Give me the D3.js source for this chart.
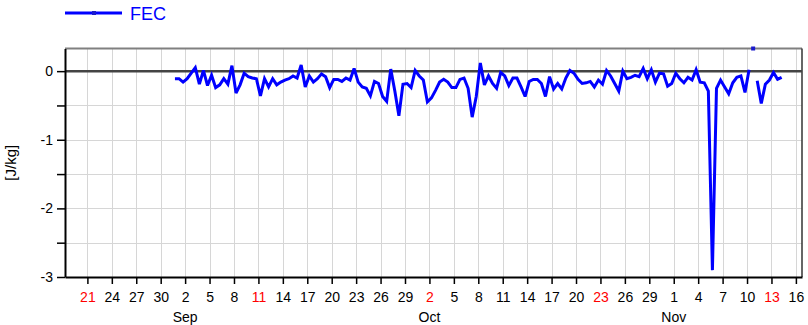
<!DOCTYPE html>
<html>
<head>
<meta charset="utf-8">
<script src="https://cdn.jsdelivr.net/npm/d3@7"></script>
<style>
  html, body { margin: 0; padding: 0; background: #fff; }
  svg { display: block; font-family: "Liberation Sans", Arial, Helvetica, sans-serif; }
</style>
</head>
<body>
<svg id="chart" width="808" height="325"></svg>
<script>
// Series: FEC, sampled every 12 hours starting at the first timestamp
const seriesName = "FEC";
const seriesUnit = "[J/kg]";
const seriesStart = "2016-08-31T18:00:00Z";
const seriesStepHours = 12;
const fecValues = [
  -0.11, -0.11, -0.16, -0.11, -0.03, 0.05, -0.19, 0.01, -0.21, -0.06,
  -0.24, -0.20, -0.11, -0.19, 0.08, -0.32, -0.20, -0.03, -0.08, -0.10,
  -0.11, -0.36, -0.11, -0.23, -0.11, -0.20, -0.16, -0.13, -0.11, -0.07,
  -0.10, 0.09, -0.23, -0.07, -0.16, -0.11, -0.04, -0.08, -0.24, -0.12,
  -0.12, -0.15, -0.10, -0.13, 0.04, -0.16, -0.23, -0.25, -0.36, -0.15,
  -0.18, -0.37, -0.44, 0.03, -0.29, -0.65, -0.19, -0.18, -0.24, 0.01,
  -0.07, -0.13, -0.45, -0.39, -0.28, -0.16, -0.12, -0.16, -0.24, -0.24,
  -0.12, -0.10, -0.25, -0.67, -0.37, 0.12, -0.20, -0.07, -0.18, -0.25,
  -0.02, -0.07, -0.21, -0.10, -0.10, -0.23, -0.37, -0.15, -0.12, -0.12,
  -0.18, -0.37, -0.08, -0.26, -0.18, -0.26, -0.10, 0.01, -0.03, -0.12,
  -0.18, -0.17, -0.15, -0.23, -0.13, -0.19, 0.01, -0.07, -0.18, -0.29,
  0.00, -0.11, -0.09, -0.06, -0.08, 0.04, -0.11, 0.02, -0.16, -0.03,
  -0.04, -0.22, -0.18, -0.03, -0.11, -0.17, -0.09, -0.13, 0.02, -0.16,
  -0.17, -0.29, -2.90, -0.25, -0.13, -0.23, -0.33, -0.17, -0.09, -0.07,
  -0.31, 0.02, 0.45, -0.14, -0.47, -0.19, -0.13, -0.02, -0.12, -0.09
];

// Axis settings
const xDomain = ["2016-08-18T06:00:00Z", "2016-11-16T18:00:00Z"];
const yDomain = [-3, 0.33];
const xTickDates = [
  "2016-08-21", "2016-08-24", "2016-08-27", "2016-08-30",
  "2016-09-02", "2016-09-05", "2016-09-08", "2016-09-11", "2016-09-14",
  "2016-09-17", "2016-09-20", "2016-09-23", "2016-09-26", "2016-09-29",
  "2016-10-02", "2016-10-05", "2016-10-08", "2016-10-11", "2016-10-14",
  "2016-10-17", "2016-10-20", "2016-10-23", "2016-10-26", "2016-10-29",
  "2016-11-01", "2016-11-04", "2016-11-07", "2016-11-10", "2016-11-13",
  "2016-11-16"
];
const monthLabels = ["Jan","Feb","Mar","Apr","May","Jun","Jul","Aug","Sep","Oct","Nov","Dec"];
const yMajorTicks = [0, -1, -2, -3];
const yMinorTicks = [-0.5, -1.5, -2.5];

const margin = { left: 65, right: 6, top: 48.5, bottom: 48 };
const W = 808, H = 325;
const svg = d3.select("#chart");

const x = d3.scaleUtc()
  .domain(xDomain.map(d => new Date(d)))
  .range([margin.left, W - margin.right]);
const y = d3.scaleLinear()
  .domain(yDomain)
  .range([H - margin.bottom, margin.top]);

const startMs = Date.parse(seriesStart);
const data = fecValues.map((v, i) => ({ t: new Date(startMs + i * seriesStepHours * 3600e3), v }));
const ticks = xTickDates.map(d => new Date(d + "T00:00:00Z"));

const x0 = margin.left, x1 = W - margin.right;
const y0 = H - margin.bottom, y1 = margin.top;

// Grid
const grid = svg.append("g").attr("stroke", "#d6d6d6").attr("stroke-width", 1);
grid.selectAll("line.v").data(ticks).join("line")
  .attr("x1", d => Math.round(x(d)) + 0.5).attr("x2", d => Math.round(x(d)) + 0.5)
  .attr("y1", y1).attr("y2", y0);
grid.selectAll("line.h").data(yMajorTicks.concat(yMinorTicks).filter(v => v !== 0 && v !== -3)).join("line")
  .attr("x1", x0).attr("x2", x1)
  .attr("y1", d => Math.round(y(d)) + 0.5).attr("y2", d => Math.round(y(d)) + 0.5);

// Frame: top and right edges
svg.append("line").attr("x1", x0).attr("x2", x1).attr("y1", y1).attr("y2", y1)
  .attr("stroke", "#808080").attr("stroke-width", 2);
svg.append("line").attr("x1", x1).attr("x2", x1).attr("y1", y1).attr("y2", y0)
  .attr("stroke", "#333").attr("stroke-width", 1.5);

// Zero reference line
svg.append("line").attr("x1", x0).attr("x2", x1).attr("y1", y(0)).attr("y2", y(0))
  .attr("stroke", "#444").attr("stroke-width", 2.5);

// Y axis
const yAxis = svg.append("g").attr("transform", `translate(${x0},0)`)
  .call(d3.axisLeft(y).tickValues(yMajorTicks.concat(yMinorTicks))
    .tickFormat(d => Number.isInteger(d) ? d3.format("d")(d).replace("−", "-") : "")
    .tickSizeInner(8).tickSizeOuter(0).tickPadding(4));
yAxis.select(".domain").attr("stroke", "#000").attr("stroke-width", 2);
yAxis.selectAll(".tick line").attr("stroke", "#000").attr("stroke-width", 1.5);
yAxis.selectAll(".tick text").attr("font-size", 14).attr("fill", "#000")
  .attr("font-family", "Liberation Sans, Arial, sans-serif");

svg.append("text")
  .attr("transform", `translate(16,${(y1 + y0) / 2}) rotate(-90)`)
  .attr("text-anchor", "middle")
  .attr("font-size", 15)
  .attr("fill", "#000")
  .text(seriesUnit);

// X axis
const xAxis = svg.append("g").attr("transform", `translate(0,${y0})`)
  .call(d3.axisBottom(x).tickValues(ticks)
    .tickFormat(d => d.getUTCDate())
    .tickSizeInner(7).tickSizeOuter(0).tickPadding(8));
xAxis.select(".domain").attr("stroke", "#000").attr("stroke-width", 2);
xAxis.selectAll(".tick line").attr("stroke", "#000").attr("stroke-width", 1.5);
xAxis.selectAll(".tick text").attr("font-size", 14)
  .attr("font-family", "Liberation Sans, Arial, sans-serif")
  .attr("fill", d => d.getUTCDay() === 0 ? "#ff0000" : "#000");

// Month names under the first tick of each month
const firstOfMonth = ticks.filter((d, i) => i > 0 && d.getUTCMonth() !== ticks[i - 1].getUTCMonth());
svg.append("g").selectAll("text").data(firstOfMonth).join("text")
  .attr("x", d => x(d)).attr("y", H - 3)
  .attr("text-anchor", "middle")
  .attr("font-size", 14)
  .attr("fill", "#000")
  .text(d => monthLabels[d.getUTCMonth()]);

// Series line; values above the top of the scale break the line and show as a marker on the frame
const inRange = d => d.v <= yDomain[1] && d.v >= yDomain[0];
const line = d3.line().defined(inRange).x(d => x(d.t)).y(d => y(d.v));
svg.append("path").datum(data)
  .attr("fill", "none").attr("stroke", "#0000ff").attr("stroke-width", 3)
  .attr("stroke-linejoin", "miter").attr("stroke-miterlimit", 3)
  .attr("d", line);
svg.append("g").selectAll("rect").data(data.filter(d => !inRange(d))).join("rect")
  .attr("x", d => x(d.t) - 2).attr("y", d => y(Math.min(d.v, yDomain[1])) - 2)
  .attr("width", 4).attr("height", 4)
  .attr("fill", "#1a1acc");

// Legend
const lg = svg.append("g");
lg.append("line").attr("x1", 65).attr("x2", 122).attr("y1", 13).attr("y2", 13)
  .attr("stroke", "#0000ff").attr("stroke-width", 3);
lg.append("rect").attr("x", 92).attr("y", 11).attr("width", 4).attr("height", 4).attr("fill", "#1a1acc");
lg.append("text").attr("x", 130).attr("y", 20)
  .attr("font-size", 18).attr("fill", "#0000ff")
  .text(seriesName);
</script>
</body>
</html>
